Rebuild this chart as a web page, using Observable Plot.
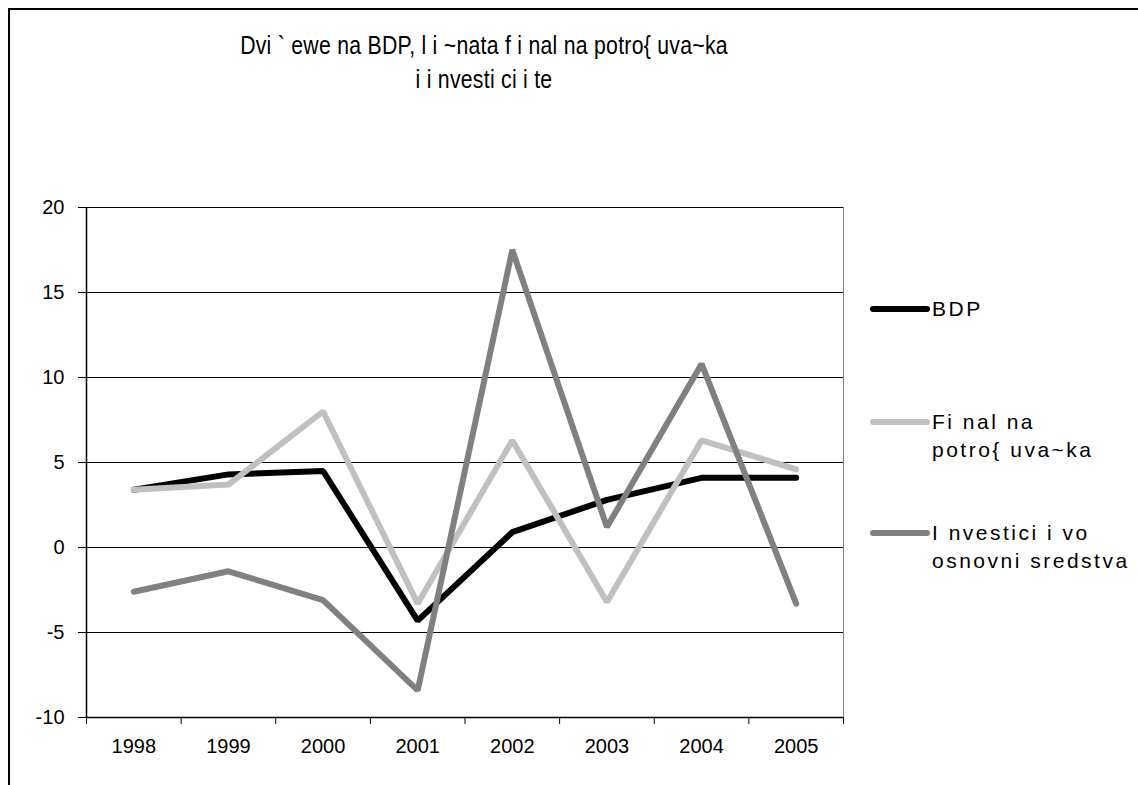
<!DOCTYPE html>
<html>
<head>
<meta charset="utf-8">
<script src="https://cdn.jsdelivr.net/npm/d3@7"></script>
<script src="https://cdn.jsdelivr.net/npm/@observablehq/plot@0.6"></script>
<style>
  html, body { margin: 0; padding: 0; background: #fff; }
  #wrap { position: relative; width: 1138px; height: 785px; overflow: hidden; background: #fff; font-family: "Liberation Sans", Arial, sans-serif; }
  #frame { position: absolute; left: 8px; top: 8px; width: 1140px; height: 790px; border-top: 2px solid #000; border-left: 2px solid #000; box-sizing: border-box; }
  #title { position: absolute; left: 134px; width: 700px; top: 28px; text-align: center; font-size: 25px; line-height: 34px; color: #000; letter-spacing: 0.3px; transform: scaleX(0.85); transform-origin: 350px 0; }
  #chart { position: absolute; left: 0; top: 0; }
  .leg-line { position: absolute; height: 6px; border-radius: 3px; }
  .leg-text { position: absolute; font-size: 21px; line-height: 28px; letter-spacing: 2.5px; color: #000; white-space: pre; }
</style>
</head>
<body>
<div id="wrap">
  <div id="frame"></div>
  <div id="chart"></div>
  <div id="title">Dvi ` ewe na BDP, l i ~nata f i nal na potro{ uva~ka<br>i i nvesti ci i te</div>
  <div id="legend"></div>
</div>
<script>
// ---- data ----
const years = ["1998", "1999", "2000", "2001", "2002", "2003", "2004", "2005"];
const bdp = [3.4, 4.3, 4.5, -4.3, 0.9, 2.8, 4.1, 4.1];
const finalnaPotrosuvacka = [3.4, 3.7, 8.0, -3.3, 6.3, -3.2, 6.3, 4.6];
const investicii = [-2.6, -1.4, -3.1, -8.4, 17.5, 1.2, 10.8, -3.3];
const seriesNames = ["BDP", "Fi nal na\npotro{ uva~ka", "I nvestici i vo\nosnovni sredstva"];
const seriesColors = ["#000000", "#c0c0c0", "#808080"];
const yTicks = [-10, -5, 0, 5, 10, 15, 20];

const seriesValues = [bdp, finalnaPotrosuvacka, investicii];
const rows = seriesValues.map((vals, s) => vals.map((v, i) => ({year: years[i], value: v, series: s})));
const xPos = d => years.indexOf(d.year) + 0.5;

const chart = Plot.plot({
  width: 1138,
  height: 785,
  marginLeft: 86,
  marginRight: 295,
  marginTop: 207,
  marginBottom: 68,
  x: {type: "linear", domain: [0, years.length]},
  y: {domain: [yTicks[0], yTicks[yTicks.length - 1]]},
  style: {fontFamily: "'Liberation Sans', Arial, sans-serif", fontSize: "19px", background: "transparent", color: "#000", overflow: "visible"},
  marks: [
    Plot.frame({stroke: "#808080"}),
    Plot.gridY({ticks: yTicks.slice(1), stroke: "#000", strokeOpacity: 1, strokeWidth: 1}),
    Plot.ruleY([yTicks[0]], {stroke: "#000", strokeWidth: 1.5}),
    Plot.ruleX([0], {stroke: "#000", strokeWidth: 1.5}),
    Plot.axisY({ticks: yTicks, tickSize: 8, tickPadding: 14, tickFormat: d => String(d), label: null, fontSize: 20, stroke: "#000"}),
    Plot.axisX({ticks: d3.range(years.length + 1), tickSize: 7, tickFormat: () => "", label: null, stroke: "#000"}),
    Plot.axisX({ticks: years.map((y, i) => i + 0.5), tickSize: 0, tickPadding: 21, tickFormat: v => years[Math.floor(v)], label: null, fontSize: 20}),
    ...rows.map((r, s) => Plot.line(r, {x: xPos, y: "value", stroke: seriesColors[s], strokeWidth: 6, strokeLinejoin: "miter", strokeLinecap: "round"}))
  ]
});
document.getElementById("chart").appendChild(chart);

// ---- legend ----
const legend = document.getElementById("legend");
const legRows = [309, 422, 533];
seriesNames.forEach((name, s) => {
  const ln = document.createElement("div");
  ln.className = "leg-line";
  ln.style.left = "870px";
  ln.style.width = "60px";
  ln.style.top = (legRows[s] - 3) + "px";
  ln.style.background = seriesColors[s];
  legend.appendChild(ln);
  const tx = document.createElement("div");
  tx.className = "leg-text";
  tx.style.left = "932px";
  tx.style.top = (legRows[s] - 14) + "px";
  tx.textContent = name;
  legend.appendChild(tx);
});
</script>
</body>
</html>
